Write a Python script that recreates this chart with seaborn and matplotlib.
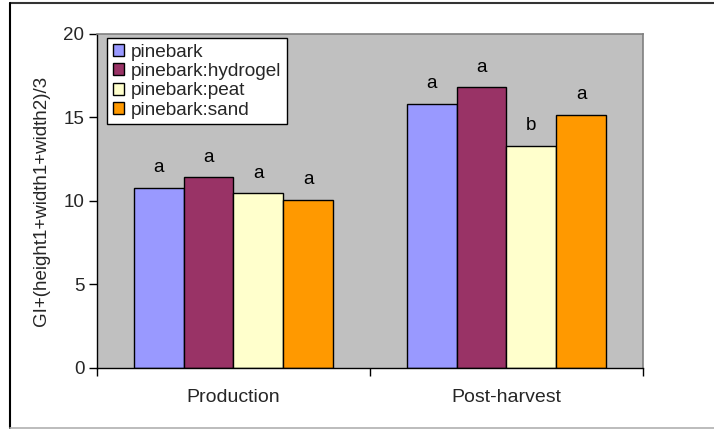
import matplotlib
matplotlib.use("Agg")
import matplotlib.pyplot as plt
from matplotlib.lines import Line2D
import pandas as pd
import seaborn as sns

# Growth index by substrate mix, at production and after harvest
stages = ["Production", "Post-harvest"]
mixes = ["pinebark", "pinebark:hydrogel", "pinebark:peat", "pinebark:sand"]
pinebark = [10.8, 15.8]
pinebark_hydrogel = [11.4, 16.8]
pinebark_peat = [10.45, 13.3]
pinebark_sand = [10.05, 15.15]

# mean-separation letters, one per bar
letters_pinebark = ["a", "a"]
letters_hydrogel = ["a", "a"]
letters_peat = ["a", "b"]
letters_sand = ["a", "a"]

colors = ["#9999FF", "#993366", "#FFFFCC", "#FF9900"]
y_ticks = [0, 5, 10, 15, 20]

series = [pinebark, pinebark_hydrogel, pinebark_peat, pinebark_sand]
letters = [letters_pinebark, letters_hydrogel, letters_peat, letters_sand]

rows = []
for mix, vals in zip(mixes, series):
    for stage, v in zip(stages, vals):
        rows.append({"stage": stage, "mix": mix, "value": v})
df = pd.DataFrame(rows)

sns.set_style("white")
plt.rcParams["font.family"] = ["Liberation Sans", "DejaVu Sans"]

fig = plt.figure(figsize=(7.14, 4.29), dpi=100)
ax = fig.add_axes([97 / 714, 1 - 367.7 / 429, 546 / 714, 333.7 / 429])
ax.set_facecolor("#C0C0C0")

sns.barplot(
    data=df, x="stage", y="value", hue="mix", order=stages, hue_order=mixes,
    palette=colors, edgecolor="black", linewidth=1.0, width=0.73, gap=0,
    errorbar=None, saturation=1, ax=ax,
)

for cont, labs in zip(ax.containers, letters):
    ax.bar_label(cont, labels=labs, padding=8.5, fontsize=13.5, color="black")

ax.set_ylim(0, 20)
ax.set_xlim(-0.5, 1.5)
ax.set_yticks(y_ticks)
ax.set_yticklabels([str(t) for t in y_ticks], fontsize=13.5)
ax.set_ylabel("GI+(height1+width1+width2)/3", fontsize=13.5, labelpad=10)
ax.set_xlabel("")
ax.tick_params(axis="y", direction="out", length=6, width=1, pad=3,
               color="black", left=True)
ax.tick_params(axis="x", which="major", length=0, pad=15, labelsize=14)
ax.set_xticks([-0.5, 0.5, 1.5], minor=True)
ax.tick_params(axis="x", which="minor", direction="out", length=6, width=1,
               color="black", bottom=True)

for side in ["top", "right"]:
    ax.spines[side].set_visible(True)
    ax.spines[side].set_color("#808080")
    ax.spines[side].set_linewidth(1.2)
for side in ["left", "bottom"]:
    ax.spines[side].set_color("black")
    ax.spines[side].set_linewidth(1.0)

handles, labels = ax.get_legend_handles_labels()
ax.legend(
    handles, labels, loc="upper left", bbox_to_anchor=(0.0183, 0.988),
    borderaxespad=0, frameon=True, fancybox=False, edgecolor="black",
    facecolor="white", framealpha=1, fontsize=13.7, handlelength=0.6,
    handleheight=0.6, handletextpad=0.35, labelspacing=0.12,
    borderpad=0.3,
)
ax.get_legend().get_frame().set_linewidth(1.0)

# outer chart border
fig.add_artist(Line2D([10 / 714, 1], [1 - 2.5 / 429, 1 - 2.5 / 429],
                      transform=fig.transFigure, color="#333333", lw=1.5))
fig.add_artist(Line2D([9.5 / 714, 9.5 / 714], [1 - 428 / 429, 1 - 2.5 / 429],
                      transform=fig.transFigure, color="black", lw=1.5))
fig.add_artist(Line2D([10 / 714, 1], [1 - 428 / 429, 1 - 428 / 429],
                      transform=fig.transFigure, color="#B0B0B0", lw=1.2))

fig.savefig("out.png", dpi=100)
